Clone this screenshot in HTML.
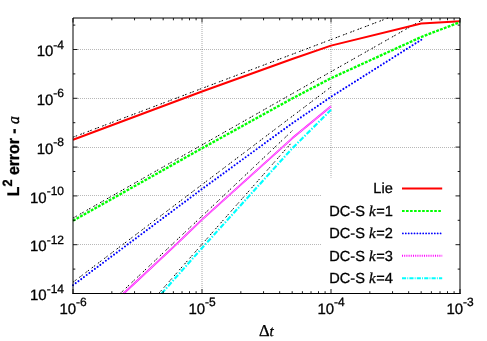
<!DOCTYPE html>
<html><head><meta charset="utf-8"><title>plot</title>
<style>html,body{margin:0;padding:0;background:#fff;overflow:hidden;}svg{display:block;}text{font-family:"Liberation Sans",sans-serif;fill:#000;stroke:#000;stroke-width:0.3px;text-rendering:geometricPrecision;}svg{will-change:transform;opacity:0.999;}.se{font-family:"Liberation Serif",serif;}</style>
</head><body>
<svg width="487" height="341" viewBox="0 0 487 341">
<rect width="487" height="341" fill="#fff"/>
<g stroke="#000" stroke-opacity="0.28" stroke-width="1" stroke-dasharray="1 1" fill="none">
<path d="M78.0 244.50H456.0"/>
<path d="M78.0 195.50H456.0"/>
<path d="M78.0 147.50H456.0"/>
<path d="M78.0 98.50H456.0"/>
<path d="M78.0 49.50H456.0"/>
</g>
<g stroke="#000" stroke-opacity="0.17" stroke-width="2" stroke-dasharray="1 1" fill="none">
<path d="M202.00 23.0V289.5"/>
<path d="M331.00 23.0V289.5"/>
</g>
<rect x="321" y="177.7" width="138.4" height="115" fill="#fff"/>
<g fill="none" stroke-linejoin="round">
<g stroke="#000" stroke-width="1.0" stroke-dasharray="1.7 1.1 1.6 3.4">
<path d="M73.00 137.20L388.10 18.00"/>
<path d="M73.00 218.10L425.64 18.00"/>
<path d="M73.00 282.20L331.00 87.00"/>
<path d="M120.18 293.50L292.60 130.43"/>
<path d="M158.62 293.50L292.60 141.44"/>
</g>
<path d="M73 139.8L202 91.5L292.2 59.0L331 45.6L421.2 23.5L460 21.2" stroke="#ff0000" stroke-width="2.0"/>
<path d="M73 220.7L202 148.3L292.2 98.5L331 78.2L421.2 37.0L460 22.1" stroke="#00ff00" stroke-width="2.35" stroke-dasharray="2.85 1.25"/>
<path d="M73 285.2L202 189.0L292.2 123.3L331 96.8L422.0 39.3" stroke="#0000ff" stroke-width="2.05" stroke-dasharray="0.01 3.4" stroke-linecap="round"/>
<path d="M123.6 293.5L176 244.7L202 219.7L292.2 138.3L331 106.2" stroke="#ff00ff" stroke-width="1.8"/>
<path d="M123.6 293.5L176 244.7L202 219.7L292.2 138.3L331 106.2" stroke="#fff" stroke-width="0.95" stroke-dasharray="0.9 0.5"/>
<path d="M161.6 293.5L202 248.0L292.2 148.4L331 109.8" stroke="#00ffff" stroke-width="2.2" stroke-dasharray="5.2 1.6 1.4 1.6"/>
</g>
<path d="M73.0 294.0V18.0H460.0V294.0" fill="none" stroke="#000" stroke-width="1"/>
<path d="M72.5 293.5H460.5" fill="none" stroke="#000" stroke-width="1"/>
<g stroke="#000" stroke-width="0.9" fill="none">
<path d="M73.0 293.50h4.5M460.0 293.50h-4.5"/>
<path d="M73.0 269.10h2.3M460.0 269.10h-2.3"/>
<path d="M73.0 244.70h4.5M460.0 244.70h-4.5"/>
<path d="M73.0 220.30h2.3M460.0 220.30h-2.3"/>
<path d="M73.0 195.90h4.5M460.0 195.90h-4.5"/>
<path d="M73.0 171.50h2.3M460.0 171.50h-2.3"/>
<path d="M73.0 147.10h4.5M460.0 147.10h-4.5"/>
<path d="M73.0 122.70h2.3M460.0 122.70h-2.3"/>
<path d="M73.0 98.30h4.5M460.0 98.30h-4.5"/>
<path d="M73.0 73.90h2.3M460.0 73.90h-2.3"/>
<path d="M73.0 49.50h4.5M460.0 49.50h-4.5"/>
<path d="M73.0 25.10h2.3M460.0 25.10h-2.3"/>
<path d="M73.00 293.5v-4.5M73.00 18.0v4.5"/>
<path d="M111.83 293.5v-2.3M111.83 18.0v2.3"/>
<path d="M134.55 293.5v-2.3M134.55 18.0v2.3"/>
<path d="M150.67 293.5v-2.3M150.67 18.0v2.3"/>
<path d="M163.17 293.5v-2.3M163.17 18.0v2.3"/>
<path d="M173.38 293.5v-2.3M173.38 18.0v2.3"/>
<path d="M182.02 293.5v-2.3M182.02 18.0v2.3"/>
<path d="M189.50 293.5v-2.3M189.50 18.0v2.3"/>
<path d="M196.10 293.5v-2.3M196.10 18.0v2.3"/>
<path d="M202.00 293.5v-4.5M202.00 18.0v4.5"/>
<path d="M240.83 293.5v-2.3M240.83 18.0v2.3"/>
<path d="M263.55 293.5v-2.3M263.55 18.0v2.3"/>
<path d="M279.67 293.5v-2.3M279.67 18.0v2.3"/>
<path d="M292.17 293.5v-2.3M292.17 18.0v2.3"/>
<path d="M302.38 293.5v-2.3M302.38 18.0v2.3"/>
<path d="M311.02 293.5v-2.3M311.02 18.0v2.3"/>
<path d="M318.50 293.5v-2.3M318.50 18.0v2.3"/>
<path d="M325.10 293.5v-2.3M325.10 18.0v2.3"/>
<path d="M331.00 293.5v-4.5M331.00 18.0v4.5"/>
<path d="M369.83 293.5v-2.3M369.83 18.0v2.3"/>
<path d="M392.55 293.5v-2.3M392.55 18.0v2.3"/>
<path d="M408.67 293.5v-2.3M408.67 18.0v2.3"/>
<path d="M421.17 293.5v-2.3M421.17 18.0v2.3"/>
<path d="M431.38 293.5v-2.3M431.38 18.0v2.3"/>
<path d="M440.02 293.5v-2.3M440.02 18.0v2.3"/>
<path d="M447.50 293.5v-2.3M447.50 18.0v2.3"/>
<path d="M454.10 293.5v-2.3M454.10 18.0v2.3"/>
<path d="M460.00 293.5v-4.5M460.00 18.0v4.5"/>
</g>
<text x="64.00" y="300.10" text-anchor="end" font-size="15">10<tspan font-size="12" dy="-7.5">-14</tspan></text>
<text x="64.00" y="251.30" text-anchor="end" font-size="15">10<tspan font-size="12" dy="-7.5">-12</tspan></text>
<text x="64.00" y="202.50" text-anchor="end" font-size="15">10<tspan font-size="12" dy="-7.5">-10</tspan></text>
<text x="64.00" y="153.70" text-anchor="end" font-size="15">10<tspan font-size="12" dy="-7.5">-8</tspan></text>
<text x="64.00" y="104.90" text-anchor="end" font-size="15">10<tspan font-size="12" dy="-7.5">-6</tspan></text>
<text x="64.00" y="56.10" text-anchor="end" font-size="15">10<tspan font-size="12" dy="-7.5">-4</tspan></text>
<text x="73.10" y="313.90" text-anchor="middle" font-size="15">10<tspan font-size="12" dy="-7.5">-6</tspan></text>
<text x="202.10" y="313.90" text-anchor="middle" font-size="15">10<tspan font-size="12" dy="-7.5">-5</tspan></text>
<text x="331.10" y="313.90" text-anchor="middle" font-size="15">10<tspan font-size="12" dy="-7.5">-4</tspan></text>
<text x="460.10" y="313.90" text-anchor="middle" font-size="15">10<tspan font-size="12" dy="-7.5">-3</tspan></text>
<text class="se" x="258.9" y="335.8" font-size="16.5">&#916;<tspan font-style="italic" font-size="15">t</tspan></text>
<text transform="translate(19.4 156.2) rotate(-90) scale(1.054 1.12)" text-anchor="middle" font-size="15" font-weight="bold">L<tspan font-size="12" dy="-6.9">2</tspan><tspan dy="6.9"> error - </tspan><tspan class="se" font-weight="normal" font-style="italic">a</tspan></text>
<text x="392.8" y="193.40" text-anchor="end" font-size="14.6">Lie</text>
<path d="M402 188.60H442.2" stroke="#ff0000" stroke-width="2.0" fill="none"/>
<text x="392.8" y="215.80" text-anchor="end" font-size="14.6">DC-S <tspan class="se" font-style="italic" font-size="15">k</tspan><tspan dx="0.5">=1</tspan></text>
<path d="M402 211.00H442.2" stroke="#00ff00" stroke-width="1.8" fill="none" stroke-dasharray="2.6 1.43"/>
<text x="392.8" y="238.20" text-anchor="end" font-size="14.6">DC-S <tspan class="se" font-style="italic" font-size="15">k</tspan><tspan dx="0.5">=2</tspan></text>
<path d="M402.9 233.40H442.2" stroke="#0000ff" stroke-width="1.8" fill="none" stroke-dasharray="0.01 2.89" stroke-linecap="round"/>
<text x="392.8" y="260.60" text-anchor="end" font-size="14.6">DC-S <tspan class="se" font-style="italic" font-size="15">k</tspan><tspan dx="0.5">=3</tspan></text>
<path d="M402 255.80H442.2" stroke="#ff00ff" stroke-width="1.9" fill="none" stroke-dasharray="1 1.2"/>
<text x="392.8" y="283.00" text-anchor="end" font-size="14.6">DC-S <tspan class="se" font-style="italic" font-size="15">k</tspan><tspan dx="0.5">=4</tspan></text>
<path d="M402 278.20H442.2" stroke="#00ffff" stroke-width="2.0" fill="none" stroke-dasharray="4.1 1.2 0.9 1.2"/>
</svg></body></html>
